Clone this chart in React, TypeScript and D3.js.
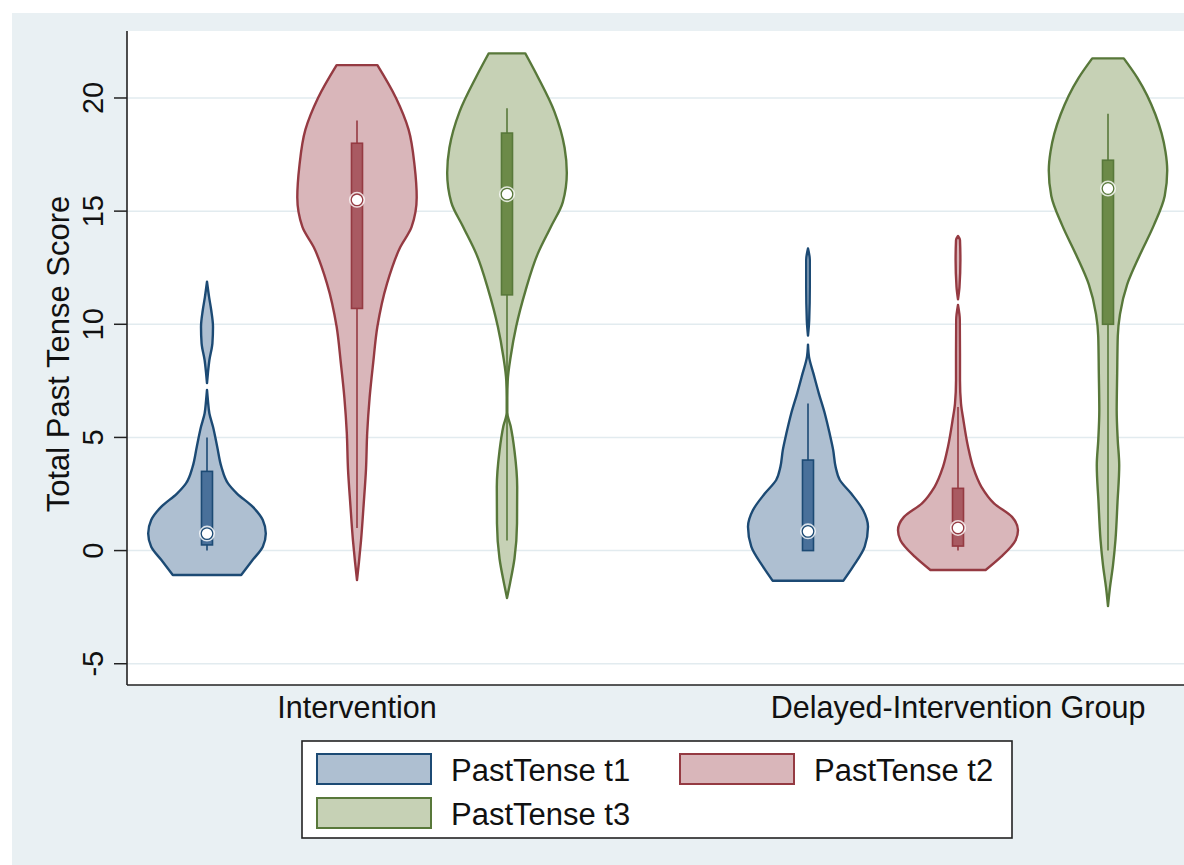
import React from "react";
import * as d3 from "d3";

// categories and series
const groups = ["Intervention", "Delayed-Intervention Group"];
const seriesNames = ["PastTense t1", "PastTense t2", "PastTense t3"];
const yTicks = [-5, 0, 5, 10, 15, 20];

// density outlines: [score, relative density]
const intT1Density = [
  [-1.08, 0.57], [-0.42, 0.76], [0.17, 0.93], [0.76, 0.98], [1.35, 0.93], [1.94, 0.76],
  [2.52, 0.5], [2.97, 0.35], [3.7, 0.24], [4.59, 0.17], [5.47, 0.1], [6.06, 0.04],
  [6.65, 0.015], [7.1, 0], [7.4, 0], [7.83, 0.015], [8.42, 0.04], [9.16, 0.09],
  [9.89, 0.1], [10.63, 0.07], [11.2, 0.035], [11.88, 0],
];
const intT2Density = [
  [-1.3, 0], [-0.5, 0.033], [0.44, 0.067], [2.0, 0.11], [3.6, 0.15], [5.2, 0.17],
  [6.75, 0.21], [8.3, 0.27], [9.9, 0.34], [11.8, 0.5], [13.4, 0.72], [14.3, 0.91],
  [15.6, 0.995], [17.0, 0.96], [18.6, 0.86], [20.0, 0.65], [21.45, 0.34],
];
const intT3Density = [
  [-2.1, 0], [-1.45, 0.05], [-0.35, 0.125], [1.2, 0.167], [2.8, 0.17], [4.4, 0.125],
  [5.5, 0.06], [6.1, 0.005], [6.75, 0.005], [7.5, 0.012], [8.6, 0.063], [9.9, 0.153],
  [11.5, 0.31], [13.1, 0.51], [14.3, 0.73], [15.4, 0.93], [16.7, 0.997], [17.8, 0.96],
  [19.4, 0.79], [20.95, 0.51], [21.97, 0.305],
];
const delT1Density = [
  [-1.33, 0.59], [-0.71, 0.75], [0.17, 0.945], [1.05, 1.0], [1.79, 0.917], [2.52, 0.72],
  [3.12, 0.53], [3.7, 0.46], [4.44, 0.42], [5.18, 0.36], [6.06, 0.28], [6.95, 0.18],
  [7.83, 0.09], [8.56, 0.017], [9.1, 0], [9.5, 0], [10.19, 0.02], [11.66, 0.03],
  [12.84, 0.03], [13.35, 0],
];
const delT2Density = [
  [-0.86, 0.46], [-0.27, 0.72], [0.46, 0.96], [0.9, 1.0], [1.49, 0.9], [2.09, 0.6],
  [2.82, 0.39], [3.7, 0.25], [4.59, 0.167], [5.77, 0.09], [6.5, 0.05], [7.53, 0.033],
  [8.71, 0.033], [10.19, 0.03], [10.85, 0], [11.1, 0], [11.66, 0.025], [12.84, 0.04],
  [13.72, 0.033], [13.9, 0],
];
const delT3Density = [
  [-2.45, 0], [-1.63, 0.033], [-0.65, 0.083], [0.49, 0.125], [2.12, 0.158], [3.76, 0.187],
  [4.9, 0.162], [6.2, 0.145], [7.84, 0.153], [9.47, 0.163], [10.45, 0.2], [11.76, 0.32],
  [13.06, 0.53], [14.37, 0.763], [15.67, 0.945], [16.8, 0.987], [17.63, 0.958],
  [19.27, 0.79], [20.9, 0.487], [21.75, 0.263],
];

// box stats: [whisker low, q1, median, q3, whisker high]
const intT1Box = [0, 0.25, 0.75, 3.5, 5];
const intT2Box = [1, 10.7, 15.5, 18, 19];
const intT3Box = [0.45, 11.3, 15.75, 18.45, 19.55];
const delT1Box = [0, 0, 0.85, 4.0, 6.5];
const delT2Box = [0, 0.2, 1.0, 2.75, 6.35];
const delT3Box = [0, 10, 16, 17.25, 19.3];

const colors = {
  "PastTense t1": { line: "#1c4a74", fill: "#aebfd1", box: "#49709a" },
  "PastTense t2": { line: "#953a42", fill: "#d9b6ba", box: "#a95a62" },
  "PastTense t3": { line: "#58783a", fill: "#c6d1b5", box: "#6c8a48" },
};

const violins = [
  { group: groups[0], series: seriesNames[0], density: intT1Density, box: intT1Box },
  { group: groups[0], series: seriesNames[1], density: intT2Density, box: intT2Box },
  { group: groups[0], series: seriesNames[2], density: intT3Density, box: intT3Box },
  { group: groups[1], series: seriesNames[0], density: delT1Density, box: delT1Box },
  { group: groups[1], series: seriesNames[1], density: delT2Density, box: delT2Box },
  { group: groups[1], series: seriesNames[2], density: delT3Density, box: delT3Box },
];

const W = 1184,
  H = 865;
const margin = { top: 31, left: 127, bottom: 685 };
const font = "'Liberation Sans', Arial, Helvetica, sans-serif";

// split outline where density hits zero so the necks leave a gap
function segments(d: number[][]) {
  const out: number[][][] = [];
  let cur: number[][] = [];
  d.forEach((p) => {
    cur.push(p);
    if (p[1] === 0 && cur.length > 1) {
      out.push(cur);
      cur = [];
    }
  });
  if (cur.length > 1) out.push(cur);
  return out;
}

export default function App() {
  const y = d3.scaleLinear().domain([-5.94, 22.96]).range([margin.bottom, margin.top]);
  const gx = d3.scalePoint().domain(groups).range([357, 958]);
  const sx = d3.scalePoint().domain(seriesNames).range([-150, 150]);
  const w = d3.scaleLinear().domain([0, 1]).range([0, 60]);

  return (
    <svg
      width={W}
      height={H}
      style={{ position: "absolute", left: 0, top: 0, fontFamily: font }}
    >
      <rect x={0} y={0} width={W} height={H} fill="#ffffff" />
      <rect x={12} y={13} width={W - 12} height={H - 13} fill="#e9f0f3" />
      <rect x={margin.left} y={margin.top} width={W - margin.left} height={margin.bottom - margin.top} fill="#ffffff" />

      {yTicks.map((t) => (
        <g key={t}>
          <line x1={margin.left} x2={W} y1={y(t)} y2={y(t)} stroke="#e2ebef" strokeWidth={1.5} />
          <line x1={114} x2={margin.left} y1={y(t)} y2={y(t)} stroke="#222" strokeWidth={1.5} />
          <text
            transform={`translate(103,${y(t)}) rotate(-90)`}
            textAnchor="middle"
            fontSize={29}
            fill="#111"
          >
            {t}
          </text>
        </g>
      ))}

      <text
        transform={`translate(69,${(margin.top + margin.bottom) / 2 - 4}) rotate(-90)`}
        textAnchor="middle"
        fontSize={31}
        fill="#111"
      >
        Total Past Tense Score
      </text>

      {violins.map((v, i) => {
        const cx = (gx(v.group) as number) + (sx(v.series) as number);
        const c = colors[v.series];
        const area = d3
          .area<number[]>()
          .y((d) => y(d[0]))
          .x0((d) => cx - w(d[1]))
          .x1((d) => cx + w(d[1]))
          .curve(d3.curveMonotoneY);
        const [lo, q1, med, q3, hi] = v.box;
        return (
          <g key={i}>
            {segments(v.density).map((s, j) => (
              <path
                key={j}
                d={area(s) as string}
                fill={c.fill}
                stroke={c.line}
                strokeWidth={2.4}
                strokeLinejoin="round"
              />
            ))}
            <line x1={cx} x2={cx} y1={y(lo)} y2={y(hi)} stroke={c.line} strokeWidth={1.6} />
            <rect
              x={cx - 5.5}
              y={y(q3)}
              width={11}
              height={Math.max(y(q1) - y(q3), 1)}
              fill={c.box}
              stroke={c.line}
              strokeWidth={1.6}
            />
            <circle cx={cx} cy={y(med)} r={8} fill="#ffffff" opacity={0.8} />
            <circle cx={cx} cy={y(med)} r={5.8} fill="#ffffff" stroke={c.line} strokeWidth={1.3} />
          </g>
        );
      })}

      <line x1={margin.left} x2={margin.left} y1={margin.top} y2={margin.bottom} stroke="#222" strokeWidth={1.6} />
      <line x1={margin.left} x2={W} y1={margin.bottom} y2={margin.bottom} stroke="#222" strokeWidth={1.6} />

      {groups.map((g) => (
        <text key={g} x={gx(g)} y={718} textAnchor="middle" fontSize={30.5} fill="#111">
          {g}
        </text>
      ))}

      <rect x={302} y={741} width={710} height={97} fill="#ffffff" stroke="#222" strokeWidth={1.6} />
      {seriesNames.map((s, i) => {
        const col = i === 1 ? 1 : 0;
        const row = i === 2 ? 1 : 0;
        const kx = 317 + col * 363;
        const ky = 754 + row * 44;
        const c = colors[s];
        return (
          <g key={s}>
            <rect x={kx} y={ky} width={114} height={30} fill={c.fill} stroke={c.line} strokeWidth={2} />
            <text x={kx + 134} y={ky + 27} fontSize={31} fill="#111">
              {s}
            </text>
          </g>
        );
      })}
    </svg>
  );
}
